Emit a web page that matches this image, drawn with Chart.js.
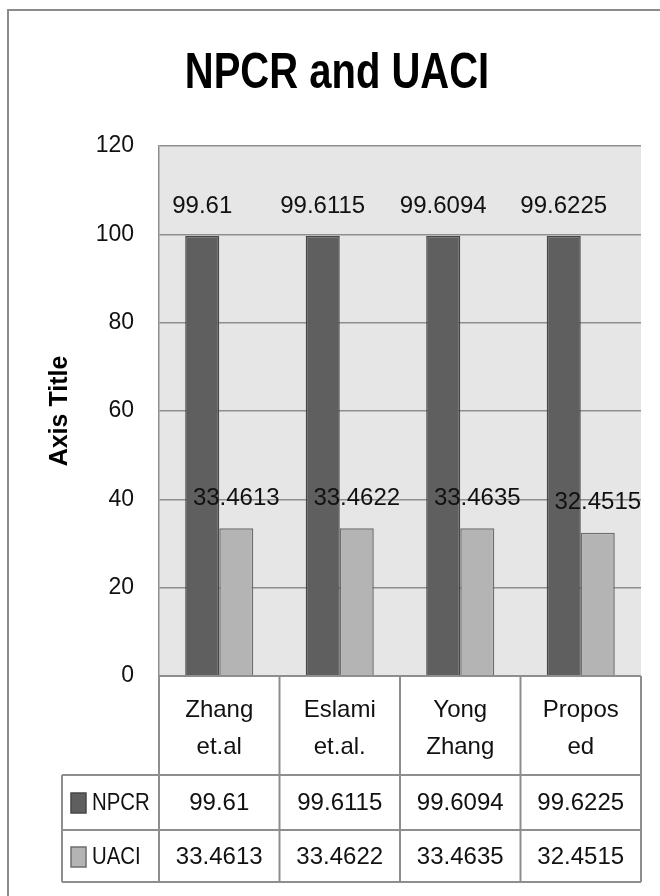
<!DOCTYPE html>
<html>
<head>
<meta charset="utf-8">
<script src="https://cdn.jsdelivr.net/npm/chart.js@4.4.1/dist/chart.umd.min.js"></script>
<style>
    html, body { margin: 0; padding: 0; background: #fff; }
    #contenedor { width: 660px; height: 896px; }
</style>
</head>
<body>
<div id="contenedor"><canvas id="grafico" width="660" height="896"></canvas></div>
<script>
var titulo = 'NPCR and UACI';
var categorias = [['Zhang', 'et.al'], ['Eslami', 'et.al.'], ['Yong', 'Zhang'], ['Propos', 'ed']];
var serieNPCR = [99.61, 99.6115, 99.6094, 99.6225];
var serieUACI = [33.4613, 33.4622, 33.4635, 32.4515];
var nombresSeries = ['NPCR', 'UACI'];
var ejeY = { min: 0, max: 120, paso: 20 };

var fuente = '"Liberation Sans", Arial, sans-serif';
var colorLinea = '#8e8e8e';
var coloresRelleno = ['#5f5f5f', '#b4b4b4'];
var coloresBorde = ['#474747', '#6e6e6e'];

// marco exterior, fondo del area de trazado y titulo (angosto como Calibri)
var fondoPlugin = {
    id: 'fondo',
    beforeDraw: function (chart) {
        var ctx = chart.ctx, area = chart.chartArea;
        ctx.save();
        ctx.fillStyle = '#fff';
        ctx.fillRect(0, 0, chart.width, chart.height);
        ctx.strokeStyle = '#8c8c8c';
        ctx.lineWidth = 2;
        ctx.strokeRect(8, 10, chart.width + 50, chart.height + 50);
        ctx.fillStyle = '#e6e6e6';
        ctx.fillRect(area.left, area.top, area.right - area.left, area.bottom - area.top);

        ctx.translate(337, 88);
        ctx.scale(0.8, 1);
        ctx.font = 'bold 50px ' + fuente;
        ctx.fillStyle = '#000';
        ctx.textAlign = 'center';
        ctx.textBaseline = 'alphabetic';
        ctx.fillText(titulo, 0, 0);
        ctx.restore();
    }
};

// etiquetas encima de cada barra
var etiquetasPlugin = {
    id: 'etiquetas',
    afterDatasetsDraw: function (chart) {
        var ctx = chart.ctx;
        ctx.save();
        ctx.font = '24px ' + fuente;
        ctx.fillStyle = '#111';
        ctx.textAlign = 'center';
        ctx.textBaseline = 'middle';
        chart.data.datasets.forEach(function (ds, i) {
            chart.getDatasetMeta(i).data.forEach(function (barra, j) {
                ctx.fillText(String(ds.data[j]), barra.x, barra.y - 30);
            });
        });
        ctx.restore();
    }
};

// tabla de datos debajo del grafico
var tablaPlugin = {
    id: 'tabla',
    afterDraw: function (chart) {
        var ctx = chart.ctx, area = chart.chartArea, x = chart.scales.x;
        var medio = (x.getPixelForValue(1) - x.getPixelForValue(0)) / 2;
        var yCab = area.bottom, yFila1 = yCab + 99, yFila2 = yFila1 + 55, yFin = yFila2 + 52;
        var xLeyenda = area.left - 97;

        ctx.save();
        ctx.strokeStyle = colorLinea;
        ctx.lineWidth = 2;
        ctx.beginPath();
        ctx.moveTo(area.left, yCab); ctx.lineTo(area.right, yCab);
        ctx.moveTo(xLeyenda, yFila1); ctx.lineTo(area.right, yFila1);
        ctx.moveTo(xLeyenda, yFila2); ctx.lineTo(area.right, yFila2);
        ctx.moveTo(xLeyenda, yFin); ctx.lineTo(area.right, yFin);
        ctx.moveTo(xLeyenda, yFila1); ctx.lineTo(xLeyenda, yFin);
        for (var i = 0; i <= categorias.length; i++) {
            var xc = x.getPixelForValue(0) - medio + i * 2 * medio;
            ctx.moveTo(xc, yCab); ctx.lineTo(xc, yFin);
        }
        ctx.stroke();

        ctx.fillStyle = '#111';
        ctx.textAlign = 'center';
        ctx.textBaseline = 'middle';
        ctx.font = '24px ' + fuente;
        var filas = [yFila1 + 28, yFila2 + 27];
        categorias.forEach(function (cat, j) {
            var xm = x.getPixelForValue(j);
            ctx.fillText(cat[0], xm, yCab + 34);
            ctx.fillText(cat[1], xm, yCab + 71);
            chart.data.datasets.forEach(function (ds, i) {
                ctx.fillText(String(ds.data[j]), xm, filas[i]);
            });
        });

        ctx.textAlign = 'left';
        nombresSeries.forEach(function (nombre, i) {
            ctx.fillStyle = coloresRelleno[i];
            ctx.strokeStyle = coloresBorde[i];
            ctx.lineWidth = 1.5;
            ctx.fillRect(xLeyenda + 9, filas[i] - 10, 15, 20);
            ctx.strokeRect(xLeyenda + 9, filas[i] - 10, 15, 20);
            ctx.fillStyle = '#111';
            ctx.save();
            ctx.translate(xLeyenda + 30, filas[i]);
            ctx.scale(0.85, 1);
            ctx.fillText(nombre, 0, 0);
            ctx.restore();
        });
        ctx.restore();
    }
};

var ctx = document.getElementById('grafico').getContext('2d');
window.chart = new Chart(ctx, {
    type: 'bar',
    data: {
        labels: categorias,
        datasets: [{
            label: nombresSeries[0],
            data: serieNPCR,
            backgroundColor: coloresRelleno[0],
            borderColor: coloresBorde[0],
            borderWidth: 1.5
        }, {
            label: nombresSeries[1],
            data: serieUACI,
            backgroundColor: coloresRelleno[1],
            borderColor: coloresBorde[1],
            borderWidth: 1.5
        }]
    },
    options: {
        responsive: false,
        animation: false,
        layout: { padding: { top: 146, right: 19, bottom: 0, left: 0 } },
        datasets: {
            bar: { categoryPercentage: 0.565, barPercentage: 1 }
        },
        plugins: {
            legend: { display: false },
            tooltip: { enabled: false },
            title: { display: false }
        },
        scales: {
            x: {
                ticks: { display: false },
                grid: { display: false },
                border: { display: false },
                afterFit: function (scale) { scale.height = 220; }
            },
            y: {
                min: ejeY.min,
                max: ejeY.max,
                ticks: {
                    stepSize: ejeY.paso,
                    padding: 25,
                    color: '#111',
                    font: { family: fuente, size: 23 }
                },
                grid: { color: colorLinea, lineWidth: 1.5, drawTicks: false },
                border: { display: true, color: colorLinea, width: 1.5 },
                title: {
                    display: true,
                    text: 'Axis Title',
                    color: '#000',
                    font: { family: fuente, size: 25, weight: 'bold' },
                    padding: { top: 45, bottom: 0 }
                },
                afterFit: function (scale) { scale.width = 159; }
            }
        }
    },
    plugins: [fondoPlugin, etiquetasPlugin, tablaPlugin]
});
</script>
</body>
</html>
